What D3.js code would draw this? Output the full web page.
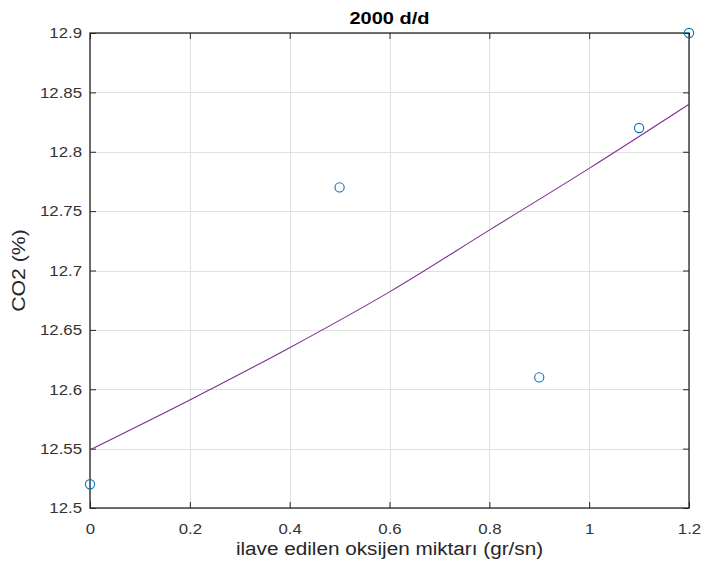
<!DOCTYPE html>
<html>
<head>
<meta charset="utf-8">
<script src="https://cdn.jsdelivr.net/npm/d3@7"></script>
<style>
  html, body { margin: 0; padding: 0; background: #ffffff; }
  svg { display: block; }
  text { font-family: "Liberation Sans", Arial, sans-serif; }
</style>
</head>
<body>
<svg id="chart" width="704" height="576"></svg>
<script>
// Measured points: added oxygen (gr/sn) vs CO2 (%)
const oxygen = [0, 0.5, 0.9, 1.1, 1.2];
const co2 = [12.52, 12.77, 12.61, 12.82, 12.9];

// Fitted curve, sampled along the x range
const fitOxygen = [0, 0.2, 0.4, 0.6, 0.8, 1.0, 1.2];
const fitCO2 = [12.549, 12.591, 12.635, 12.682, 12.734, 12.786, 12.840];

// Tick values and their labels
const xTickValues = [0, 0.2, 0.4, 0.6, 0.8, 1.0, 1.2];
const xTickLabels = ["0", "0.2", "0.4", "0.6", "0.8", "1", "1.2"];
const yTickValues = [12.5, 12.55, 12.6, 12.65, 12.7, 12.75, 12.8, 12.85, 12.9];
const yTickLabels = ["12.5", "12.55", "12.6", "12.65", "12.7", "12.75", "12.8", "12.85", "12.9"];

const titleText = "2000 d/d";
const xLabelText = "ilave edilen oksijen miktarı (gr/sn)";
const yLabelText = "CO2 (%)";

const svg = d3.select("#chart");
const plot = { left: 90, right: 689, top: 33, bottom: 508 };

const x = d3.scaleLinear().domain([0, 1.2]).range([plot.left, plot.right]);
const y = d3.scaleLinear().domain([12.5, 12.9]).range([plot.bottom, plot.top]);

const axisColor = "#262626";
const tickLen = 6;

// widen glyphs horizontally to the face used in the figure
function stretch(sel, k) {
  sel.each(function () {
    const w = this.getComputedTextLength();
    d3.select(this).attr("textLength", w * k).attr("lengthAdjust", "spacingAndGlyphs");
  });
}

// grid
const grid = svg.append("g").attr("stroke", "#e0e0e0").attr("stroke-width", 1);
grid.selectAll("line.vx").data(xTickValues).join("line")
  .attr("x1", d => Math.round(x(d)) + 0.5).attr("x2", d => Math.round(x(d)) + 0.5)
  .attr("y1", plot.top).attr("y2", plot.bottom);
grid.selectAll("line.hy").data(yTickValues).join("line")
  .attr("x1", plot.left).attr("x2", plot.right)
  .attr("y1", d => Math.round(y(d)) + 0.5).attr("y2", d => Math.round(y(d)) + 0.5);

// axes with inward ticks
const xAxis = svg.append("g").attr("transform", `translate(0,${plot.bottom})`)
  .call(d3.axisBottom(x).tickValues(xTickValues).tickFormat((d, i) => xTickLabels[i])
    .tickSizeInner(-tickLen).tickSizeOuter(0).tickPadding(15));
const yAxis = svg.append("g").attr("transform", `translate(${plot.left},0)`)
  .call(d3.axisLeft(y).tickValues(yTickValues).tickFormat((d, i) => yTickLabels[i])
    .tickSizeInner(-tickLen).tickSizeOuter(0).tickPadding(8));
const xTop = svg.append("g").attr("transform", `translate(0,${plot.top})`)
  .call(d3.axisTop(x).tickValues(xTickValues).tickFormat("").tickSizeInner(-tickLen).tickSizeOuter(0));
const yRight = svg.append("g").attr("transform", `translate(${plot.right},0)`)
  .call(d3.axisRight(y).tickValues(yTickValues).tickFormat("").tickSizeInner(-tickLen).tickSizeOuter(0));

[xAxis, yAxis, xTop, yRight].forEach(g => {
  g.select(".domain").remove();
  g.selectAll(".tick line").attr("stroke", axisColor).attr("stroke-width", 1);
  g.selectAll(".tick text").attr("fill", "#333333").attr("font-size", 15)
    .attr("font-family", "'Liberation Sans', Arial, sans-serif");
});
stretch(xAxis.selectAll(".tick text"), 1.12);
stretch(yAxis.selectAll(".tick text"), 1.12);

// box
svg.append("rect")
  .attr("x", plot.left).attr("y", plot.top)
  .attr("width", plot.right - plot.left).attr("height", plot.bottom - plot.top)
  .attr("fill", "none").attr("stroke", axisColor).attr("stroke-width", 1.3);

// fitted curve
const line = d3.line().x((d, i) => x(fitOxygen[i])).y(d => y(d)).curve(d3.curveMonotoneX);
svg.append("path").datum(fitCO2)
  .attr("d", line)
  .attr("fill", "none").attr("stroke", "#7E2F8E").attr("stroke-width", 1.1);

// measured points
svg.append("g").selectAll("circle").data(co2).join("circle")
  .attr("cx", (d, i) => x(oxygen[i])).attr("cy", d => y(d)).attr("r", 4.6)
  .attr("fill", "none").attr("stroke", "#0072BD").attr("stroke-width", 1.1);

// title and axis labels
const title = svg.append("text")
  .attr("x", (plot.left + plot.right) / 2).attr("y", 24)
  .attr("text-anchor", "middle").attr("font-size", 16).attr("font-weight", "bold")
  .attr("fill", "#000").text(titleText);
stretch(title, 1.25);

const xLabel = svg.append("text")
  .attr("x", (plot.left + plot.right) / 2).attr("y", 555)
  .attr("text-anchor", "middle").attr("font-size", 18)
  .attr("fill", axisColor).text(xLabelText);
stretch(xLabel, 1.15);

const yLabel = svg.append("text")
  .attr("transform", `translate(25,${(plot.top + plot.bottom) / 2}) rotate(-90)`)
  .attr("text-anchor", "middle").attr("font-size", 18)
  .attr("fill", axisColor).text(yLabelText);
stretch(yLabel, 1.18);
</script>
</body>
</html>
